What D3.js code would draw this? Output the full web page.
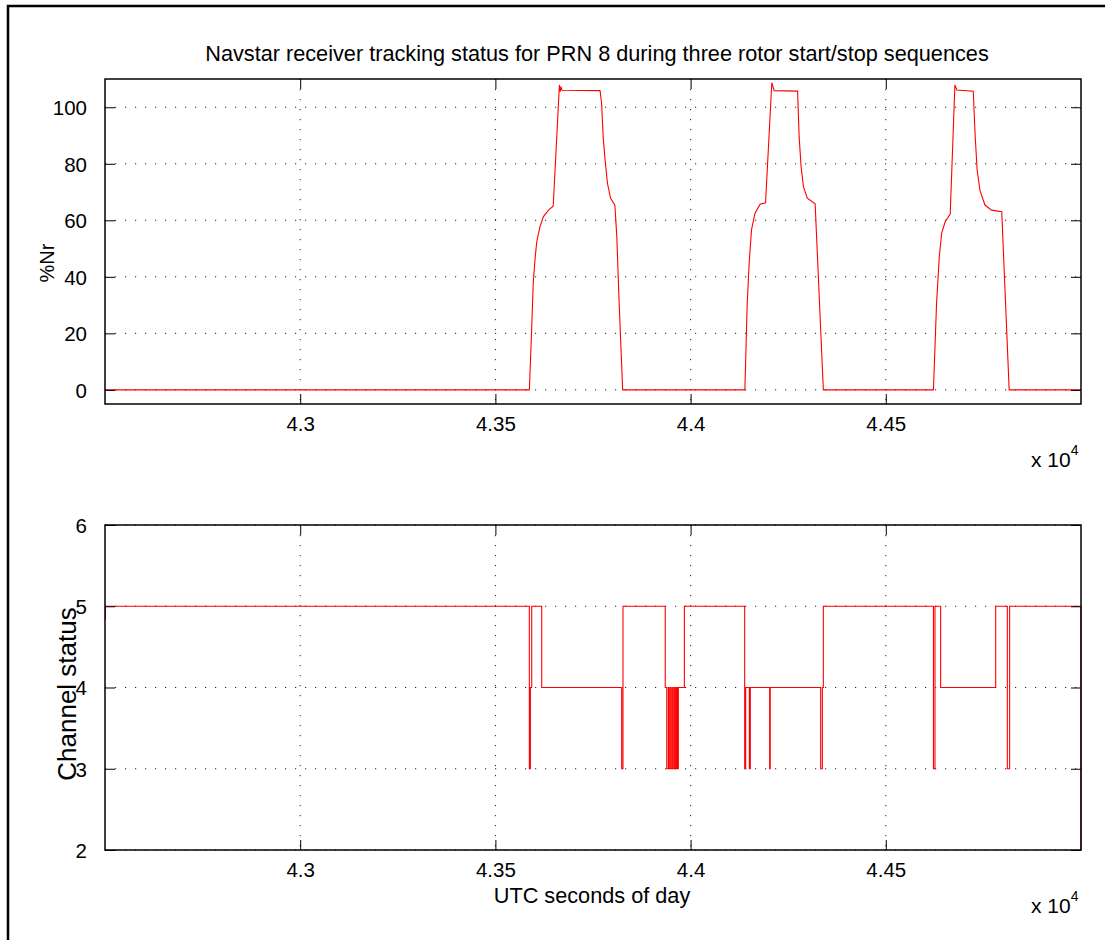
<!DOCTYPE html>
<html>
<head>
<meta charset="utf-8">
<script src="https://cdn.jsdelivr.net/npm/d3@7"></script>
<style>
  html, body { margin: 0; padding: 0; background: #fff; }
  svg text { font-family: "Liberation Sans", Arial, Helvetica, sans-serif; fill: #000; }
</style>
</head>
<body>
<svg id="fig" width="1105" height="940"></svg>
<script>
// Receiver %Nr (rotor speed) against UTC seconds of day
const nrTime = [42500, 43587, 43593, 43597, 43602, 43606, 43614, 43623, 43636, 43648, 43664, 43666, 43668, 43670, 43673,
  43768, 43772, 43776, 43781, 43787, 43795, 43806, 43811, 43817, 43826,
  44139, 44145, 44150, 44156, 44165, 44178, 44192, 44208, 44214, 44274, 44278, 44283, 44289, 44299, 44319, 44340,
  44622, 44630, 44637, 44643, 44652, 44665, 44677, 44682, 44724, 44729, 44734, 44741, 44754, 44771, 44797, 44816, 45000];
const nrPct = [0, 0, 22, 38, 47, 52.5, 57.7, 61.3, 63.6, 65, 107.9, 105.5, 107.3, 106.1, 106,
  105.9, 101.4, 89.6, 81.3, 73.1, 67.8, 65.4, 54.2, 30.6, 0,
  0, 30.6, 44.8, 56.6, 62.5, 65.7, 66.2, 108.7, 105.9, 105.7, 89.6, 79, 71.9, 67.8, 65.8, 0,
  0, 30.6, 47.1, 55.4, 59.5, 62.2, 107.9, 106.1, 105.7, 89.6, 77.8, 70.7, 65.4, 63.6, 63.0, 0, 0];

// Tracking channel status (held until the next change)
const statusTime = [42500, 42501, 43587, 43589.6, 43593, 43618.6, 43823.5, 43826.8,
  43935, 43939, 43943, 43945.5, 43949, 43950.6, 43954, 43955.7, 43959, 43962, 43964.3, 43966, 43968.6, 43984,
  44138.5, 44141, 44150.5, 44153, 44202.5, 44204, 44333.2, 44337.5, 44340,
  44622, 44626, 44640.5, 44781.5, 44811.3, 44817.2, 45000];
const statusVal = [4.84, 5, 3, 4, 5, 4, 3, 5,
  4, 3, 4, 3, 4, 3, 4, 3, 4, 3, 4, 3, 4, 5,
  3, 4, 3, 4, 3, 4, 3, 4, 5,
  3, 5, 4, 5, 3, 5, 2];

const xTicks = [43000, 43500, 44000, 44500];
const xTickLabels = ["4.3", "4.35", "4.4", "4.45"];
const nrTicks = [0, 20, 40, 60, 80, 100];
const statusTicks = [2, 3, 4, 5, 6];

const titleText = "Navstar receiver tracking status for PRN 8 during three rotor start/stop sequences";

const svg = d3.select("#fig");

// figure frame
svg.append("rect").attr("x", 8).attr("y", 6).attr("width", 1200).attr("height", 1000)
  .attr("fill", "none").attr("stroke", "#000").attr("stroke-width", 2.5);

const left = 105, right = 1081;
const x = d3.scaleLinear().domain([42500, 45000]).range([left, right]);

function panel(top, bottom, yDomain, yTicks, times, vals, curve, ylabel, lab) {
  const y = d3.scaleLinear().domain(yDomain).range([bottom, top]);
  const g = svg.append("g");

  // dotted grid
  const grid = g.append("g").attr("stroke", "#222").attr("stroke-width", 1)
    .attr("stroke-dasharray", "1.2,8.8").attr("fill", "none");
  xTicks.forEach(t => grid.append("line").attr("x1", x(t)).attr("x2", x(t)).attr("y1", top).attr("y2", bottom));
  yTicks.forEach(t => grid.append("line").attr("y1", y(t)).attr("y2", y(t)).attr("x1", left).attr("x2", right));

  // data trace
  const data = times.map((t, i) => [t, vals[i]]);
  const clipId = "clip" + top;
  svg.append("clipPath").attr("id", clipId).append("rect")
    .attr("x", left).attr("y", top - 1).attr("width", right - left + 1).attr("height", bottom - top + 2);
  g.append("path").datum(data)
    .attr("clip-path", `url(#${clipId})`)
    .attr("fill", "none").attr("stroke", "#ff0000").attr("stroke-width", 1.1)
    .attr("d", d3.line().x(d => x(d[0])).y(d => y(d[1])).curve(curve));

  // axes with inward ticks on all sides
  const tl = 10;
  const axB = g.append("g").attr("transform", `translate(0,${bottom})`)
    .call(d3.axisBottom(x).tickValues(xTicks).tickSizeInner(-tl).tickSizeOuter(0)
      .tickFormat((d, i) => xTickLabels[i]));
  const axT = g.append("g").attr("transform", `translate(0,${top})`)
    .call(d3.axisTop(x).tickValues(xTicks).tickSizeInner(-tl).tickSizeOuter(0).tickFormat(""));
  const axL = g.append("g").attr("transform", `translate(${left},0)`)
    .call(d3.axisLeft(y).tickValues(yTicks).tickSizeInner(-tl).tickSizeOuter(0)
      .tickPadding(tl + 8).tickFormat(d3.format("d")));
  const axR = g.append("g").attr("transform", `translate(${right},0)`)
    .call(d3.axisRight(y).tickValues(yTicks).tickSizeInner(-tl).tickSizeOuter(0).tickFormat(""));
  [axB, axT, axL, axR].forEach(a => {
    a.select(".domain").remove();
    a.selectAll("line").attr("stroke", "#000").attr("stroke-width", 1);
    a.selectAll("text").attr("font-size", 20.5).attr("font-family", null).attr("fill", "#000");
  });
  axB.selectAll("text").attr("dy", null).attr("y", 27);
  axL.selectAll("text").attr("dy", "0.36em");

  g.append("rect").attr("x", left).attr("y", top).attr("width", right - left).attr("height", bottom - top)
    .attr("fill", "none").attr("stroke", "#000").attr("stroke-width", 1.5);

  // axis labels
  g.append("text").attr("transform", `translate(${lab.x},${lab.y}) rotate(-90)`)
    .attr("text-anchor", "middle").attr("font-size", lab.size).text(ylabel);

  const mult = g.append("text").attr("x", 1031).attr("y", bottom + 63).attr("font-size", 21);
  mult.append("tspan").text("x 10");
  mult.append("tspan").attr("font-size", 14).attr("dy", -12).text("4");

  return y;
}

panel(79, 404, [-5, 110], nrTicks, nrTime, nrPct, d3.curveLinear, "%Nr", {x: 54, y: 263, size: 20});
panel(525, 850, [2, 6], statusTicks, statusTime, statusVal, d3.curveStepAfter, "Channel status", {x: 76, y: 694, size: 26});

svg.append("text").attr("x", 597).attr("y", 61).attr("text-anchor", "middle")
  .attr("font-size", 21.7).text(titleText);
svg.append("text").attr("x", 592).attr("y", 903).attr("text-anchor", "middle")
  .attr("font-size", 21.7).text("UTC seconds of day");
</script>
</body>
</html>
